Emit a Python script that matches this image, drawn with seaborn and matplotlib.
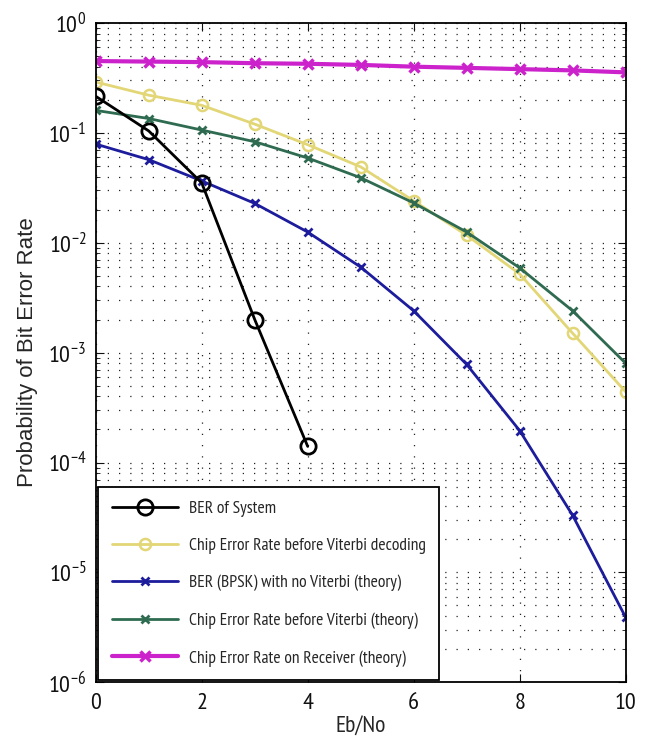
import numpy as np
import pandas as pd
import matplotlib
matplotlib.use('Agg')
import matplotlib.pyplot as plt
import seaborn as sns
from matplotlib import font_manager as fm
from matplotlib.ticker import LogLocator, FixedLocator

# Veri
ebno = [0, 1, 2, 3, 4, 5, 6, 7, 8, 9, 10]
ebno_sys = [0, 1, 2, 3, 4]
ber_system = [0.215, 0.104, 0.035, 0.002, 1.4e-4]
chip_before_vit = [0.29, 0.22, 0.178, 0.12, 0.078, 0.049, 0.024, 0.0117, 0.0052, 0.0015, 4.4e-4]
ber_bpsk = [0.079, 0.057, 0.0365, 0.0228, 0.0125, 0.006, 0.0024, 7.8e-4, 1.95e-4, 3.3e-5, 3.9e-6]
chip_before_vit_th = [0.16, 0.135, 0.106, 0.083, 0.059, 0.039, 0.023, 0.0125, 0.0059, 0.0024, 8e-4]
chip_receiver_th = [0.45, 0.445, 0.44, 0.43, 0.425, 0.415, 0.40, 0.39, 0.38, 0.37, 0.355]

labels = ['BER of System',
          'Chip Error Rate before Viterbi decoding',
          'BER (BPSK) with no Viterbi (theory)',
          'Chip Error Rate before Viterbi (theory)',
          'Chip Error Rate on Receiver (theory)']

sns.set_style('ticks')

# Dar (narrow) bir yazı tipi bul, yoksa Liberation Sans
installed = {f.name for f in fm.fontManager.ttflist}
candidates = ['Liberation Sans Narrow', 'Arial Narrow', 'PT Sans Narrow',
              'Archivo Narrow', 'Roboto Condensed', 'Open Sans Condensed',
              'Encode Sans Condensed', 'Liberation Sans']
narrow = [c for c in candidates if c in installed]
plt.rcParams['font.family'] = narrow[:1] + ['Liberation Sans', 'DejaVu Sans']

fig = plt.figure(figsize=(6.47, 7.4), dpi=100)
ax = fig.add_axes([0.148, 0.078, 0.819, 0.891])

# Çizgiler (seaborn varsayılan beyaz marker kenarını ezmek için mec veriliyor)
sns.lineplot(x=ebno_sys, y=ber_system, ax=ax, color='black', lw=2,
             marker='o', markersize=11, markerfacecolor='none',
             markeredgecolor='black', markeredgewidth=2, label=labels[0], zorder=5)
sns.lineplot(x=ebno, y=chip_before_vit, ax=ax, color='#e2d676', lw=2,
             marker='o', markersize=8, markerfacecolor='none',
             markeredgecolor='#e2d676', markeredgewidth=1.8, label=labels[1])
sns.lineplot(x=ebno, y=ber_bpsk, ax=ax, color='#1c1c9c', lw=2,
             marker='x', markersize=6, markeredgecolor='#1c1c9c',
             markeredgewidth=2, label=labels[2])
sns.lineplot(x=ebno, y=chip_before_vit_th, ax=ax, color='#2e6b50', lw=2,
             marker='x', markersize=6, markeredgecolor='#2e6b50',
             markeredgewidth=2, label=labels[3])
sns.lineplot(x=ebno, y=chip_receiver_th, ax=ax, color='#cc22cc', lw=3,
             marker='x', markersize=7, markeredgecolor='#cc22cc',
             markeredgewidth=2.5, label=labels[4])

ax.set_yscale('log')
ax.set_xlim(0, 10)
ax.set_ylim(1e-6, 1)
ax.xaxis.set_major_locator(FixedLocator([0, 2, 4, 6, 8, 10]))
ax.yaxis.set_major_locator(LogLocator(base=10, numticks=10))
ax.yaxis.set_minor_locator(LogLocator(base=10, subs=np.arange(2, 10), numticks=20))

# MATLAB tarzı noktalı ızgara
ax.set_axisbelow(True)
dot = (0, (1, 8))
ax.grid(True, which='major', axis='both', linestyle=dot, color='#222222', lw=0.9)
ax.grid(True, which='minor', axis='y', linestyle=dot, color='#222222', lw=0.9)
ax.tick_params(which='both', direction='in', top=True, right=True,
               labelsize=17.5, colors='#111111')
ax.tick_params(which='major', length=6)
ax.tick_params(axis='x', which='major', pad=8)
ax.tick_params(axis='y', which='major', pad=7)
ax.tick_params(which='minor', length=3)
for sp in ax.spines.values():
    sp.set_color('black')
    sp.set_linewidth(1.3)

ax.set_xlabel('Eb/No', fontsize=17, labelpad=1)
ax.set_ylabel('Probability of Bit Error Rate', fontsize=16,
              family=['Liberation Sans', 'DejaVu Sans'], labelpad=7)

leg = ax.legend(loc='lower left', fontsize=12.6, frameon=True, fancybox=False,
                edgecolor='black', framealpha=1, borderaxespad=0.15,
                handlelength=3.8, handletextpad=0.6, labelspacing=1.2,
                borderpad=0.75)
leg.get_frame().set_linewidth(1.3)

fig.savefig('out.png', dpi=100)
